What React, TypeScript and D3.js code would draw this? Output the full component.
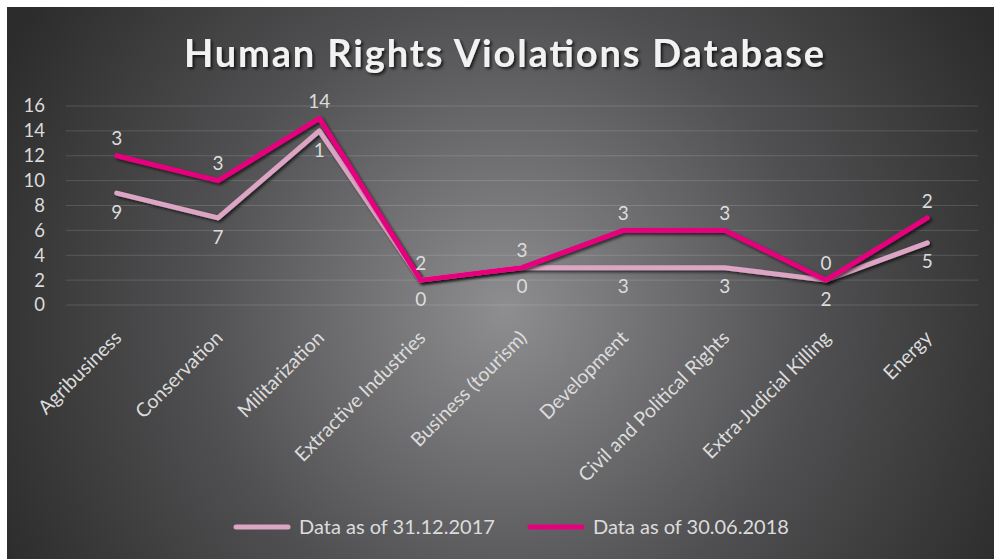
import React, { useEffect, useRef } from 'react';
import * as d3 from 'd3';

const categories = [
  'Agribusiness',
  'Conservation',
  'Militarization',
  'Extractive Industries',
  'Business (tourism)',
  'Development',
  'Civil and Political Rights',
  'Extra-Judicial Killing',
  'Energy',
];
// cases recorded by 31.12.2017
const values2017 = [9, 7, 14, 2, 3, 3, 3, 2, 5];
// new cases added by 30.06.2018 (stacked on top of 2017)
const added2018 = [3, 3, 1, 0, 0, 3, 3, 0, 2];
const yTicks = [0, 2, 4, 6, 8, 10, 12, 14, 16];
const seriesNames = ['Data as of 31.12.2017', 'Data as of 30.06.2018'];
// where Excel put the 2017 label (true = above the lines)
const label2017Above = [false, false, true, true, true, false, false, false, false];

const PINK = '#dca5c3';
const MAGENTA = '#e6007e';
const TEXT = '#dcdcdc';
const FONT = 'Lato, "Open Sans", sans-serif';

const App = () => {
  const ref = useRef<SVGSVGElement>(null);
  const W = 994, H = 559;
  const margin = { top: 106, right: 16, bottom: 254, left: 66 };

  useEffect(() => {
    const svg = d3.select(ref.current);
    svg.selectAll('*').remove();

    const defs = svg.append('defs');
    const grad = defs.append('radialGradient')
      .attr('id', 'bg').attr('gradientUnits', 'userSpaceOnUse')
      .attr('cx', 505).attr('cy', 310).attr('r', 560);
    grad.append('stop').attr('offset', '0%').attr('stop-color', '#8e8e90');
    grad.append('stop').attr('offset', '55%').attr('stop-color', '#505052');
    grad.append('stop').attr('offset', '100%').attr('stop-color', '#2c2c2c');

    const sh = defs.append('filter').attr('id', 'shadow')
      .attr('x', '-10%').attr('y', '-10%').attr('width', '130%').attr('height', '130%');
    sh.append('feDropShadow').attr('dx', 2).attr('dy', 2).attr('stdDeviation', 1.8)
      .attr('flood-color', '#000').attr('flood-opacity', 0.65);
    const tsh = defs.append('filter').attr('id', 'tshadow');
    tsh.append('feDropShadow').attr('dx', 2).attr('dy', 2).attr('stdDeviation', 1.5)
      .attr('flood-color', '#000').attr('flood-opacity', 0.7);

    svg.append('rect').attr('x', 7).attr('y', 7).attr('width', W - 7).attr('height', H - 7)
      .attr('fill', 'url(#bg)');

    svg.append('text')
      .attr('x', 504).attr('y', 67)
      .attr('text-anchor', 'middle')
      .attr('font-family', FONT).attr('font-weight', 'bold').attr('font-size', 38)
      .attr('textLength', 640).attr('lengthAdjust', 'spacing')
      .attr('fill', '#f2f2f2').attr('filter', 'url(#tshadow)')
      .text('Human Rights Violations Database');

    const x = d3.scaleBand().domain(categories).range([margin.left, W - margin.right]);
    const y = d3.scaleLinear().domain([0, 16]).range([H - margin.bottom, margin.top]);
    const cx = (c: string) => (x(c) as number) + x.bandwidth() / 2;

    const grid = svg.append('g');
    grid.selectAll('line').data(yTicks).enter().append('line')
      .attr('x1', margin.left).attr('x2', W - margin.right)
      .attr('y1', d => y(d)).attr('y2', d => y(d))
      .attr('stroke', '#ffffff').attr('stroke-opacity', 0.14).attr('stroke-width', 1);

    const yAxis = svg.append('g').attr('transform', `translate(${margin.left - 21},0)`)
      .call(d3.axisLeft(y).tickValues(yTicks).tickSize(0).tickPadding(0));
    yAxis.select('.domain').remove();
    yAxis.selectAll('text').attr('fill', TEXT).attr('font-size', 18.5).attr('font-family', FONT);

    const xAxis = svg.append('g').attr('transform', `translate(0,${y(0)})`)
      .call(d3.axisBottom(x).tickSize(0));
    xAxis.select('.domain').remove();
    xAxis.selectAll('text')
      .attr('fill', TEXT).attr('font-size', 19.5).attr('font-family', FONT)
      .attr('dy', null).attr('y', null)
      .attr('transform', 'translate(6,34) rotate(-45)')
      .style('text-anchor', 'end');

    const totals = values2017.map((v, i) => v + added2018[i]);
    const line = d3.line<number>().x((_, i) => cx(categories[i])).y(d => y(d));

    svg.append('path').datum(values2017).attr('d', line)
      .attr('fill', 'none').attr('stroke', PINK).attr('stroke-width', 5)
      .attr('stroke-linejoin', 'round').attr('stroke-linecap', 'round')
      .attr('filter', 'url(#shadow)');
    svg.append('path').datum(totals).attr('d', line)
      .attr('fill', 'none').attr('stroke', MAGENTA).attr('stroke-width', 5)
      .attr('stroke-linejoin', 'round').attr('stroke-linecap', 'round')
      .attr('filter', 'url(#shadow)');

    const labels = svg.append('g')
      .attr('font-family', FONT).attr('font-size', 19).attr('fill', TEXT)
      .attr('text-anchor', 'middle');
    categories.forEach((c, i) => {
      const top = y(Math.max(values2017[i], totals[i]));
      const bottom = y(Math.min(values2017[i], totals[i]));
      const above = label2017Above[i];
      labels.append('text')
        .attr('x', cx(c)).attr('y', above ? top - 17 : bottom + 19)
        .attr('dy', '0.35em').text(values2017[i]);
      labels.append('text')
        .attr('x', cx(c)).attr('y', above ? bottom + 19 : top - 17)
        .attr('dy', '0.35em').text(added2018[i]);
    });

    const legend = svg.append('g').attr('transform', 'translate(236,527)');
    const items = [
      { name: seriesNames[0], color: PINK, x: 0 },
      { name: seriesNames[1], color: MAGENTA, x: 294 },
    ];
    items.forEach(it => {
      legend.append('line').attr('x1', it.x).attr('x2', it.x + 52)
        .attr('stroke', it.color).attr('stroke-width', 5).attr('stroke-linecap', 'round');
      legend.append('text').attr('x', it.x + 63).attr('dy', '0.35em')
        .attr('font-family', FONT).attr('font-size', 20).attr('fill', TEXT)
        .text(it.name);
    });
  }, []);

  return (
    <svg ref={ref} width={W} height={H}
      style={{ position: 'absolute', left: 0, top: 0, display: 'block' }} />
  );
};

export default App;
